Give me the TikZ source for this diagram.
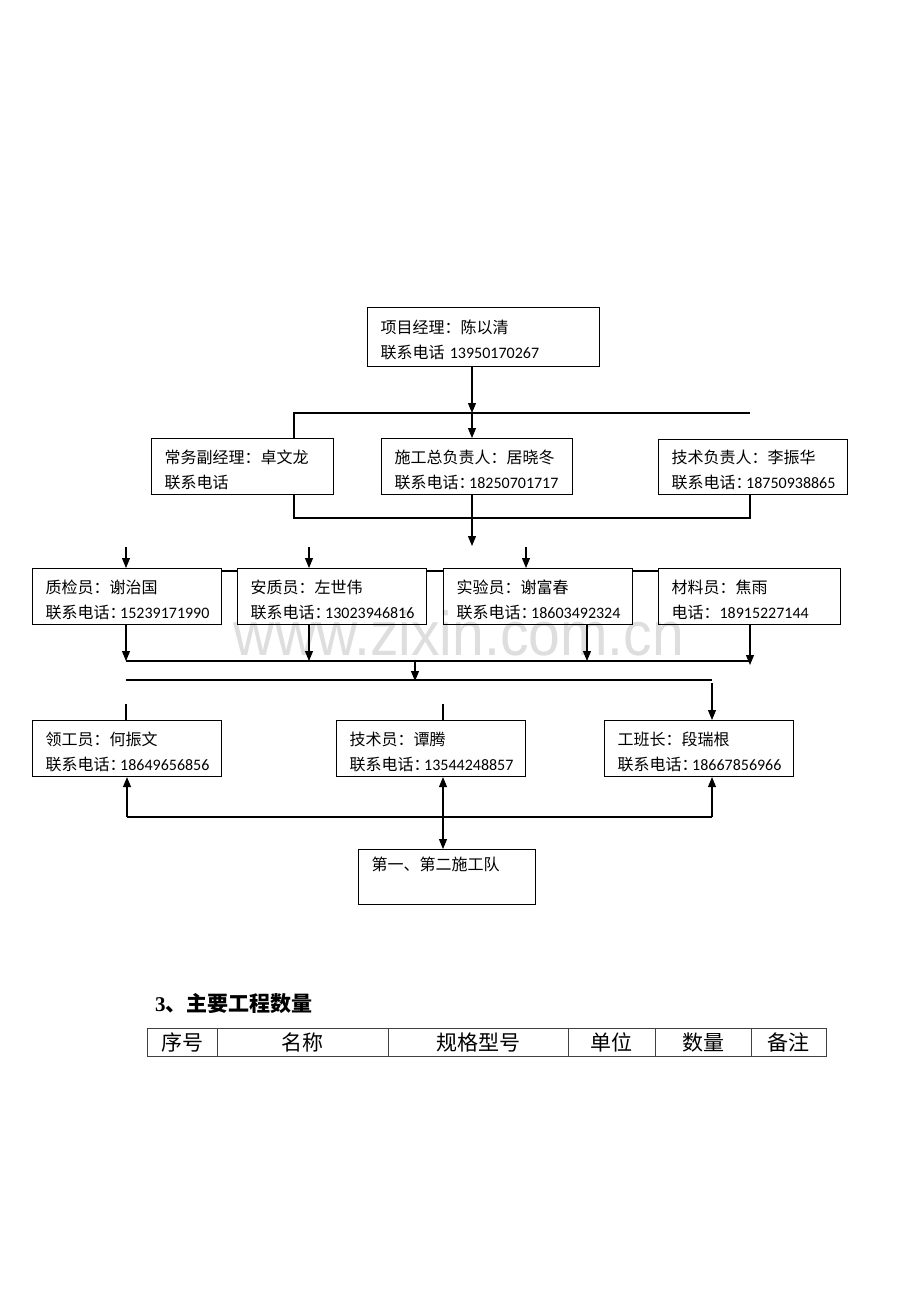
\documentclass[tikz,border=0pt]{standalone}
\usepackage{fontspec}
\setmainfont{Carlito}
\newfontfamily\cjk{Noto Sans CJK SC}
\newfontfamily\cjkh[RawFeature=+halt]{Noto Sans CJK SC}
\newfontfamily\tnr{Liberation Serif}
\newfontfamily\arialwm{Liberation Sans}
\usetikzlibrary{arrows.meta}
\newcommand{\zh}[1]{{\cjk #1}}
\newcommand{\tel}[1]{{\cjk 联系电话}{\cjkh ：}\,#1}
\newcommand{\twol}[2]{\rule{0pt}{20pt}#1\\#2}
\begin{document}
\begin{tikzpicture}[x=1pt,y=-1pt,
  box/.style={draw, line width=1.1pt, anchor=north west, inner xsep=13pt, inner ysep=0pt, align=left, font=\fontsize{16}{25}\selectfont},
  ln/.style={line width=1.1pt},
  arr/.style={line width=1.1pt, -{Triangle[width=8pt,length=10pt]}},
  dbl/.style={line width=1.1pt, {Triangle[width=8pt,length=10pt]}-{Triangle[width=8pt,length=10pt]}},
  cell/.style={draw=black!75, line width=0.8pt, anchor=north west, inner sep=0pt, minimum height=28pt, font=\cjk\fontsize{21}{24}\selectfont}]
\fill[white] (0,0) rectangle (920,1302);
\useasboundingbox (0,0) rectangle (920,1302);
% watermark
\node[anchor=base, text=black!13, font=\arialwm\fontsize{62}{62}\selectfont, inner sep=0pt] (wm) at (459,655) {\scalebox{0.92}[1]{www.zixin.com.cn}};
% boxes
\node[box, text width=206pt, minimum height=59pt] (pm) at (367,307) {\twol{\zh{项目经理：陈以清}}{\zh{联系电话} 13950170267}};
\node[box, text width=156pt, minimum height=56pt] (b1) at (151,438) {\twol{\zh{常务副经理：卓文龙}}{\zh{联系电话}}};
\node[box, text width=165pt, minimum height=56pt] (b2) at (381,438) {\twol{\zh{施工总负责人：居晓冬}}{\tel{18250701717}}};
\node[box, text width=163pt, minimum height=55pt] (b3) at (658,439) {\twol{\zh{技术负责人：李振华}}{\tel{18750938865}}};
\node[box, text width=163pt, minimum height=56pt] (c1) at (32,568) {\twol{\zh{质检员：谢治国}}{\tel{15239171990}}};
\node[box, text width=163pt, minimum height=56pt] (c2) at (237,568) {\twol{\zh{安质员：左世伟}}{\tel{13023946816}}};
\node[box, text width=163pt, minimum height=56pt] (c3) at (443,568) {\twol{\zh{实验员：谢富春}}{\tel{18603492324}}};
\node[box, text width=156pt, minimum height=56pt] (c4) at (658,568) {\twol{\zh{材料员：焦雨}}{\zh{电话：}18915227144}};
\node[box, text width=163pt, minimum height=56pt] (d1) at (32,720) {\twol{\zh{领工员：何振文}}{\tel{18649656856}}};
\node[box, text width=163pt, minimum height=56pt] (d2) at (336,720) {\twol{\zh{技术员：谭腾}}{\tel{13544248857}}};
\node[box, text width=163pt, minimum height=56pt] (d3) at (604,720) {\twol{\zh{工班长：段瑞根}}{\tel{18667856966}}};
\node[box, text width=151pt, minimum height=55pt] (team) at (358,849) {\twol{\zh{第一、第二施工队}}{\strut}};
% connectors top
\coordinate (j1) at (472,413);
\coordinate (j1L) at (294,413);
\coordinate (j1R) at (750,413);
\draw[arr] (pm.south -| j1) -- (j1);
\draw[arr] (j1) -- (j1 |- b2.north);
\draw[ln] (j1L |- b1.north) -- (j1L) -- (j1R);
\coordinate (j2L) at (294,518);
\coordinate (j2R) at (750,518);
\draw[ln] (j2L |- b1.south) -- (j2L) -- (j2R) -- (j2R |- b3.south);
\coordinate (a2) at (472,546);
\draw[arr] (b2.south -| a2) -- (a2);
% short arrows into row 3
\coordinate (s1) at (126,547);
\coordinate (s2) at (309,547);
\coordinate (s3) at (526,547);
\draw[arr] (s1) -- (s1 |- c1.north);
\draw[arr] (s2) -- (s2 |- c2.north);
\draw[arr] (s3) -- (s3 |- c3.north);
% links between row 3 boxes
\coordinate (h3) at (0,571);
\draw[ln] (c1.east |- h3) -- (c2.west |- h3);
\draw[ln] (c2.east |- h3) -- (c3.west |- h3);
\draw[ln] (c3.east |- h3) -- (c4.west |- h3);
% arrows out of row 3
\coordinate (k1) at (126,661);
\coordinate (k2) at (309,661);
\coordinate (k3) at (587,661);
\coordinate (k4) at (750,665);
\draw[arr] (c1.south -| k1) -- (k1);
\draw[arr] (c2.south -| k2) -- (k2);
\draw[arr] (c3.south -| k3) -- (k3);
\draw[arr] (c4.south -| k4) -- (k4);
\draw[ln] (k1) -- (k4 |- k1);
\coordinate (m1) at (415,661);
\coordinate (m2) at (415,681);
\draw[arr] (m1) -- (m2);
\coordinate (n1) at (126,680);
\coordinate (n2) at (712,680);
\draw[ln] (n1) -- (n2);
\coordinate (n3) at (712,683);
\draw[arr] (n3) -- (n3 |- d3.north);
\coordinate (p1) at (126,704);
\coordinate (p2) at (443,704);
\draw[ln] (p1) -- (p1 |- d1.north);
\draw[ln] (p2) -- (p2 |- d2.north);
% bottom
\coordinate (q1) at (127,817);
\coordinate (q2) at (712,817);
\coordinate (q3) at (443,817);
\draw[ln] (q1) -- (q2);
\draw[arr] (q1) -- (q1 |- d1.south);
\draw[arr] (q2) -- (q2 |- d3.south);
\draw[dbl] (d2.south -| q3) -- (team.north -| q3);
% heading
\node[anchor=west, inner sep=0pt, font=\fontsize{21}{24}\selectfont\bfseries] (head) at (155,1004) {{\tnr 3}{\cjk\bfseries 、主要工程数量}};
% table
\node[cell, minimum width=70pt] (t1) at (147,1028) {序号};
\node[cell, minimum width=171pt] (t2) at (217,1028) {名称};
\node[cell, minimum width=180pt] (t3) at (388,1028) {规格型号};
\node[cell, minimum width=87pt] (t4) at (568,1028) {单位};
\node[cell, minimum width=96pt] (t5) at (655,1028) {数量};
\node[cell, minimum width=75pt] (t6) at (751,1028) {备注};
\end{tikzpicture}
\end{document}
